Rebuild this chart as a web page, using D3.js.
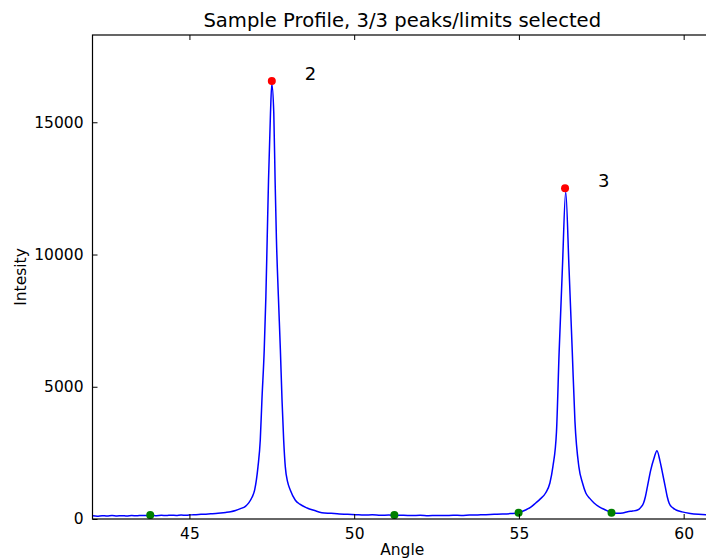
<!DOCTYPE html>
<html>
<head>
<meta charset="utf-8">
<script src="https://cdn.jsdelivr.net/npm/d3@7"></script>
<style>
  html, body { margin: 0; padding: 0; background: #fff; }
  svg { display: block; }
  text { font-family: "DejaVu Sans", sans-serif; fill: #000; }
</style>
</head>
<body>
<svg id="chart" width="706" height="559"></svg>
<script>
// ---- data ----
const angles = [42.07,42.2,42.35,42.5,42.65,42.8,42.95,43.1,43.25,43.4,43.55,43.7,43.85,44.0,44.15,44.3,44.45,44.6,44.75,44.9,45.05,45.2,45.35,45.5,45.65,45.8,45.95,46.1,46.25,46.4,46.55,46.7,46.8,46.9,46.98,47.08,47.15,47.2,47.27,47.32,47.36,47.40,47.46,47.50,47.56,47.60,47.64,47.70,47.76,47.81,47.86,47.91,47.98,48.06,48.21,48.35,48.57,48.8,49.02,49.3,49.55,49.8,50.05,50.3,50.55,50.8,51.05,51.25,51.5,51.75,52.0,52.25,52.5,52.75,53.0,53.25,53.5,53.75,54.0,54.25,54.5,54.75,55.0,55.2,55.35,55.51,55.65,55.81,55.94,56.03,56.14,56.22,56.32,56.42,56.52,56.62,56.70,56.82,56.93,57.03,57.15,57.28,57.45,57.63,57.81,58.0,58.15,58.3,58.45,58.6,58.7,58.78,58.84,58.90,59.0,59.1,59.19,59.28,59.34,59.44,59.5,59.56,59.65,59.77,59.95,60.2,60.45,60.7,60.86];
const intensities = [120,108,126,112,133,118,127,112,130,121,136,128,140,126,138,131,146,135,150,142,156,163,175,184,196,208,226,248,275,320,390,480,610,820,1100,1970,2990,4500,6400,8400,10600,12800,15350,16450,15350,12800,10600,8400,6400,4500,2990,1970,1400,1100,720,560,416,320,240,215,190,180,165,150,158,140,148,135,142,130,138,125,135,128,140,135,148,155,165,175,185,205,240,340,440,605,760,983,1360,1970,3300,6300,9500,12370,9500,6300,3700,1970,1360,983,780,605,450,340,240,220,230,276,300,340,440,594,850,1222,1850,2300,2580,2200,1850,1222,850,594,440,340,270,210,175,155,150];

const peakAngles = [47.50, 56.40];
const peakValues = [16560, 12510];
const peakLabels = ["2", "3"];

const limitAngles = [43.81, 51.22, 54.99, 57.81];
const limitValues = [151, 151, 238, 238];

const xTicks = [45, 50, 55, 60];
const yTicks = [0, 5000, 10000, 15000];

const titleText = "Sample Profile, 3/3 peaks/limits selected";
const xLabel = "Angle";
const yLabel = "Intesity";

// ---- layout ----
const mLeft = 92.5, mRight = 712, mTop = 35, mBottom = 519;
const svg = d3.select("#chart");

const x = d3.scaleLinear().domain([42.058, 60.86]).range([mLeft, mRight]);
const y = d3.scaleLinear().domain([0, 18300]).range([mBottom, mTop]);

const profile = angles.map((a, i) => ({a, v: intensities[i]}));

svg.append("defs").append("clipPath").attr("id", "clip")
  .append("rect").attr("x", mLeft).attr("y", mTop)
  .attr("width", mRight - mLeft).attr("height", mBottom - mTop);

const plot = svg.append("g").attr("clip-path", "url(#clip)");

plot.append("path")
  .datum(profile)
  .attr("fill", "none")
  .attr("stroke", "#0000ff")
  .attr("stroke-width", 1.5)
  .attr("stroke-linejoin", "round")
  .attr("d", d3.line().curve(d3.curveMonotoneX).x(d => x(d.a)).y(d => y(d.v)));

plot.selectAll("circle.limit")
  .data(limitAngles.map((a, i) => ({a, v: limitValues[i]})))
  .enter().append("circle")
  .attr("class", "limit")
  .attr("cx", d => x(d.a)).attr("cy", d => y(d.v)).attr("r", 4)
  .attr("fill", "#007f00");

plot.selectAll("circle.peak")
  .data(peakAngles.map((a, i) => ({a, v: peakValues[i]})))
  .enter().append("circle")
  .attr("class", "peak")
  .attr("cx", d => x(d.a)).attr("cy", d => y(d.v)).attr("r", 4)
  .attr("fill", "#ff0000");

svg.selectAll("text.plabel")
  .data(peakAngles.map((a, i) => ({a, v: peakValues[i], t: peakLabels[i]})))
  .enter().append("text")
  .attr("class", "plabel")
  .attr("x", d => x(d.a + 1)).attr("y", d => y(d.v) - 1)
  .attr("font-size", "18px")
  .text(d => d.t);

// axes (ticks inside, on all four sides)
const tickLen = 5;
const xb = svg.append("g").attr("transform", `translate(0,${mBottom})`)
  .call(d3.axisBottom(x).tickValues(xTicks).tickSizeInner(-tickLen).tickSizeOuter(0).tickPadding(9).tickFormat(d3.format("d")));
const xt = svg.append("g").attr("transform", `translate(0,${mTop})`)
  .call(d3.axisTop(x).tickValues(xTicks).tickSizeInner(-tickLen).tickSizeOuter(0).tickFormat(""));
const yl = svg.append("g").attr("transform", `translate(${mLeft},0)`)
  .call(d3.axisLeft(y).tickValues(yTicks).tickSizeInner(-tickLen).tickSizeOuter(0).tickPadding(9).tickFormat(d3.format("d")));
const yr = svg.append("g").attr("transform", `translate(${mRight},0)`)
  .call(d3.axisRight(y).tickValues(yTicks).tickSizeInner(-tickLen).tickSizeOuter(0).tickFormat(""));

[xb, xt, yl, yr].forEach(g => {
  g.select(".domain").remove();
  g.selectAll("line").attr("stroke", "#000").attr("stroke-width", 1);
  g.selectAll("text").attr("font-size", "15.5px").attr("font-family", "DejaVu Sans").attr("fill", "#000");
});

svg.append("rect")
  .attr("x", mLeft).attr("y", mTop)
  .attr("width", mRight - mLeft).attr("height", mBottom - mTop)
  .attr("fill", "none").attr("stroke", "#000").attr("stroke-width", 1.2);

// labels
svg.append("text")
  .attr("x", (mLeft + mRight) / 2).attr("y", 27)
  .attr("text-anchor", "middle").attr("font-size", "19.6px")
  .text(titleText);

svg.append("text")
  .attr("x", (mLeft + mRight) / 2).attr("y", 555)
  .attr("text-anchor", "middle").attr("font-size", "15.5px")
  .text(xLabel);

svg.append("text")
  .attr("transform", `translate(26,${(mTop + mBottom) / 2}) rotate(-90)`)
  .attr("text-anchor", "middle").attr("font-size", "15.5px")
  .text(yLabel);
</script>
</body>
</html>
